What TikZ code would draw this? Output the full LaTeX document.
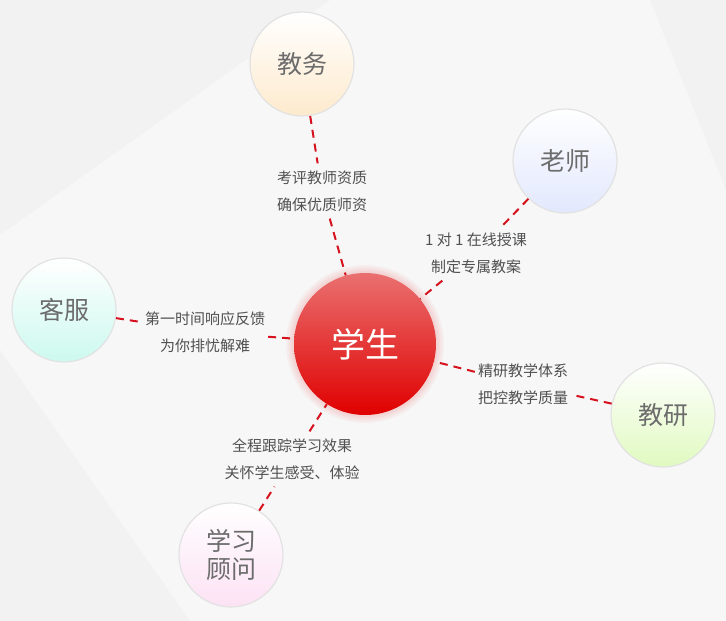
\documentclass[tikz,border=0pt]{standalone}
\usepackage{fontspec}
\newfontfamily\cjk{Noto Sans CJK SC}
\usetikzlibrary{positioning}
\definecolor{bgwhite}{RGB}{247,247,247}
\definecolor{bgshade}{RGB}{242,242,242}
\definecolor{linkred}{RGB}{214,18,30}
\definecolor{notegrey}{RGB}{80,80,80}
\definecolor{bubblegrey}{RGB}{108,108,108}
\definecolor{ringgrey}{RGB}{226,226,226}
\definecolor{coretop}{RGB}{234,112,112}
\definecolor{corebottom}{RGB}{224,0,0}
\definecolor{softorange}{RGB}{253,234,205}
\definecolor{softblue}{RGB}{226,232,253}
\definecolor{softcyan}{RGB}{204,249,238}
\definecolor{softgreen}{RGB}{224,250,192}
\definecolor{softpink}{RGB}{252,226,244}

\begin{document}
\begin{tikzpicture}[x=1pt, y=-1pt,
    bubble/.style={circle, draw=ringgrey, line width=1.2pt, minimum size=104pt,
        inner sep=0pt, top color=white, text=bubblegrey, align=center,
        font=\cjk\fontsize{25}{28}\selectfont},
    core/.style={circle, minimum size=142pt, inner sep=0pt,
        top color=coretop, bottom color=corebottom, text=white,
        font=\cjk\fontsize{34}{36}\selectfont},
    note/.style={text=notegrey, align=center, inner xsep=3pt, inner ysep=7pt,
        font=\cjk\fontsize{15}{27}\selectfont},
    link/.style={linkred, line width=2pt, dash pattern=on 8pt off 6pt}
]
    % Background
    \useasboundingbox (0,0) rectangle (726,621);
    \fill[bgwhite] (0,0) rectangle (726,621);
    \fill[bgshade] (0,0) -- (330,0) -- (0,235) -- cycle;
    \fill[bgshade] (0,350) -- (190,621) -- (0,621) -- cycle;
    \fill[bgshade] (650,0) -- (726,0) -- (726,190) -- cycle;

    % Glow round the centre
    \foreach \r in {79,77,...,72}
        \fill[corebottom, opacity=0.035] (365,344) circle (\r pt);

    % Nodes
    \node[core] (xuesheng) at (365,344) {学生};
    \node[bubble, bottom color=softorange] (jiaowu) at (302,64) {教务};
    \node[bubble, bottom color=softblue] (laoshi) at (565,161) {老师};
    \node[bubble, bottom color=softcyan] (kefu) at (64,310) {客服};
    \node[bubble, bottom color=softgreen] (jiaoyan) at (663,415) {教研};
    \node[bubble, bottom color=softpink] (guwen) at (231,555) {学习\\顾问};

    % Notes on the links
    \node[note] (n-jiaowu) at (322,191) {考评教师资质\\确保优质师资};
    \node[note] (n-laoshi) at (476,253) {1 对 1 在线授课\\制定专属教案};
    \node[note] (n-kefu) at (205,332) {第一时间响应反馈\\为你排忧解难};
    \node[note] (n-jiaoyan) at (523,384) {精研教学体系\\把控教学质量};
    \node[note] (n-guwen) at (292,459) {全程跟踪学习效果\\关怀学生感受、体验};

    % Links
    \foreach \n in {jiaowu, laoshi, kefu, jiaoyan, guwen} {
        \draw[link] (\n) -- (n-\n);
        \draw[link] (n-\n) -- (xuesheng);
    }
\end{tikzpicture}
\end{document}
